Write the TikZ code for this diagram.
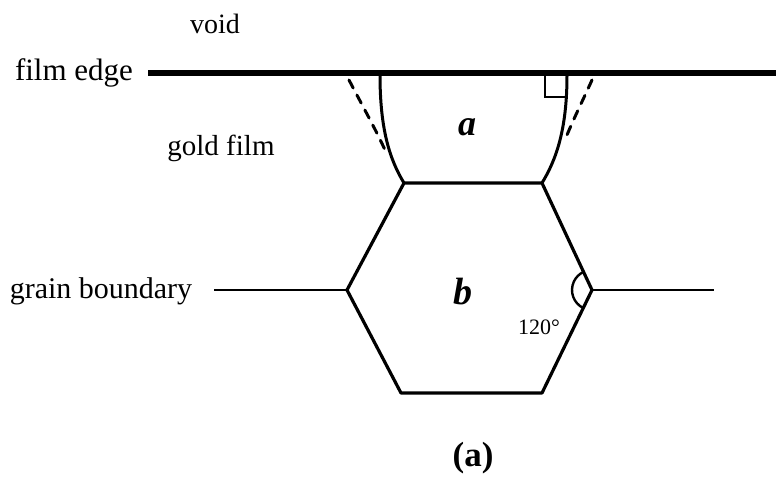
\documentclass[tikz,border=0pt]{standalone}
\usepackage{fontspec}
\setmainfont{Liberation Serif}
\begin{document}
\begin{tikzpicture}[x=1pt,y=-1pt,
  lbl/.style={inner sep=0pt},
  edgeline/.style={line width=3.2pt,line join=round},
  gbline/.style={line width=2.6pt},
  curveline/.style={line width=3pt},
  dashline/.style={line width=3pt,dash pattern=on 9pt off 8pt,line cap=round}]
\useasboundingbox (0,0) rectangle (776,477);
% coordinates
\coordinate (FL) at (148,73);
\coordinate (FR) at (776,73);
\coordinate (TL) at (404,183);
\coordinate (TR) at (542,183);
\coordinate (L) at (347,290);
\coordinate (R) at (592,290);
\coordinate (BL) at (401,393);
\coordinate (BR) at (542,393);
\coordinate (GL) at (214,290);
\coordinate (GR) at (714,290);
\coordinate (CL) at (380,75);
\coordinate (CR) at (567,75);
\coordinate (DL) at (349,80);
\coordinate (DLe) at (385,150);
\coordinate (DR) at (592,80);
\coordinate (DRe) at (565,140);
% film edge
\draw[line width=6.5pt] (FL) -- (FR);
% curved boundaries
\draw[curveline] (CL) .. controls (380,130) and (390,160) .. (TL);
\draw[curveline] (CR) .. controls (567,130) and (556,160) .. (TR);
\draw[dashline] (DL) .. controls (362,105) and (376,130) .. (DLe);
\draw[dashline] (DR) .. controls (583,100) and (572,122) .. (DRe);
% right angle
\draw[line width=2.2pt] (545,75) -- (545,97) -- (567,97);
% hexagon
\draw[edgeline] (TL) -- (TR) -- (R) -- (BR) -- (BL) -- (L) -- cycle;
% grain boundaries
\draw[gbline] (GL) -- (L);
\draw[gbline] (R) -- (GR);
% 120 degree arc
\draw[line width=2.4pt] (R) ++(115:20) arc[start angle=115,end angle=245,radius=20];
% labels
\node[lbl,font=\fontsize{28}{30}\selectfont] (void) at (215,24) {void};
\node[lbl,font=\fontsize{31}{33}\selectfont] (film) at (74,73) {film edge};
\node[lbl,font=\fontsize{29}{31}\selectfont] (gold) at (221,148) {gold film};
\node[lbl,font=\fontsize{30}{32}\selectfont] (gb) at (101,291) {grain boundary};
\node[lbl,font=\fontsize{36}{38}\selectfont\bfseries\itshape] (a) at (467,127) {a};
\node[lbl,font=\fontsize{38}{40}\selectfont\bfseries\itshape] (b) at (463,292) {b};
\node[lbl,font=\fontsize{22}{24}\selectfont] (ang) at (539,327) {120°};
\node[lbl,font=\fontsize{35}{37}\selectfont\bfseries] (cap) at (473,458) {(a)};
\end{tikzpicture}
\end{document}
